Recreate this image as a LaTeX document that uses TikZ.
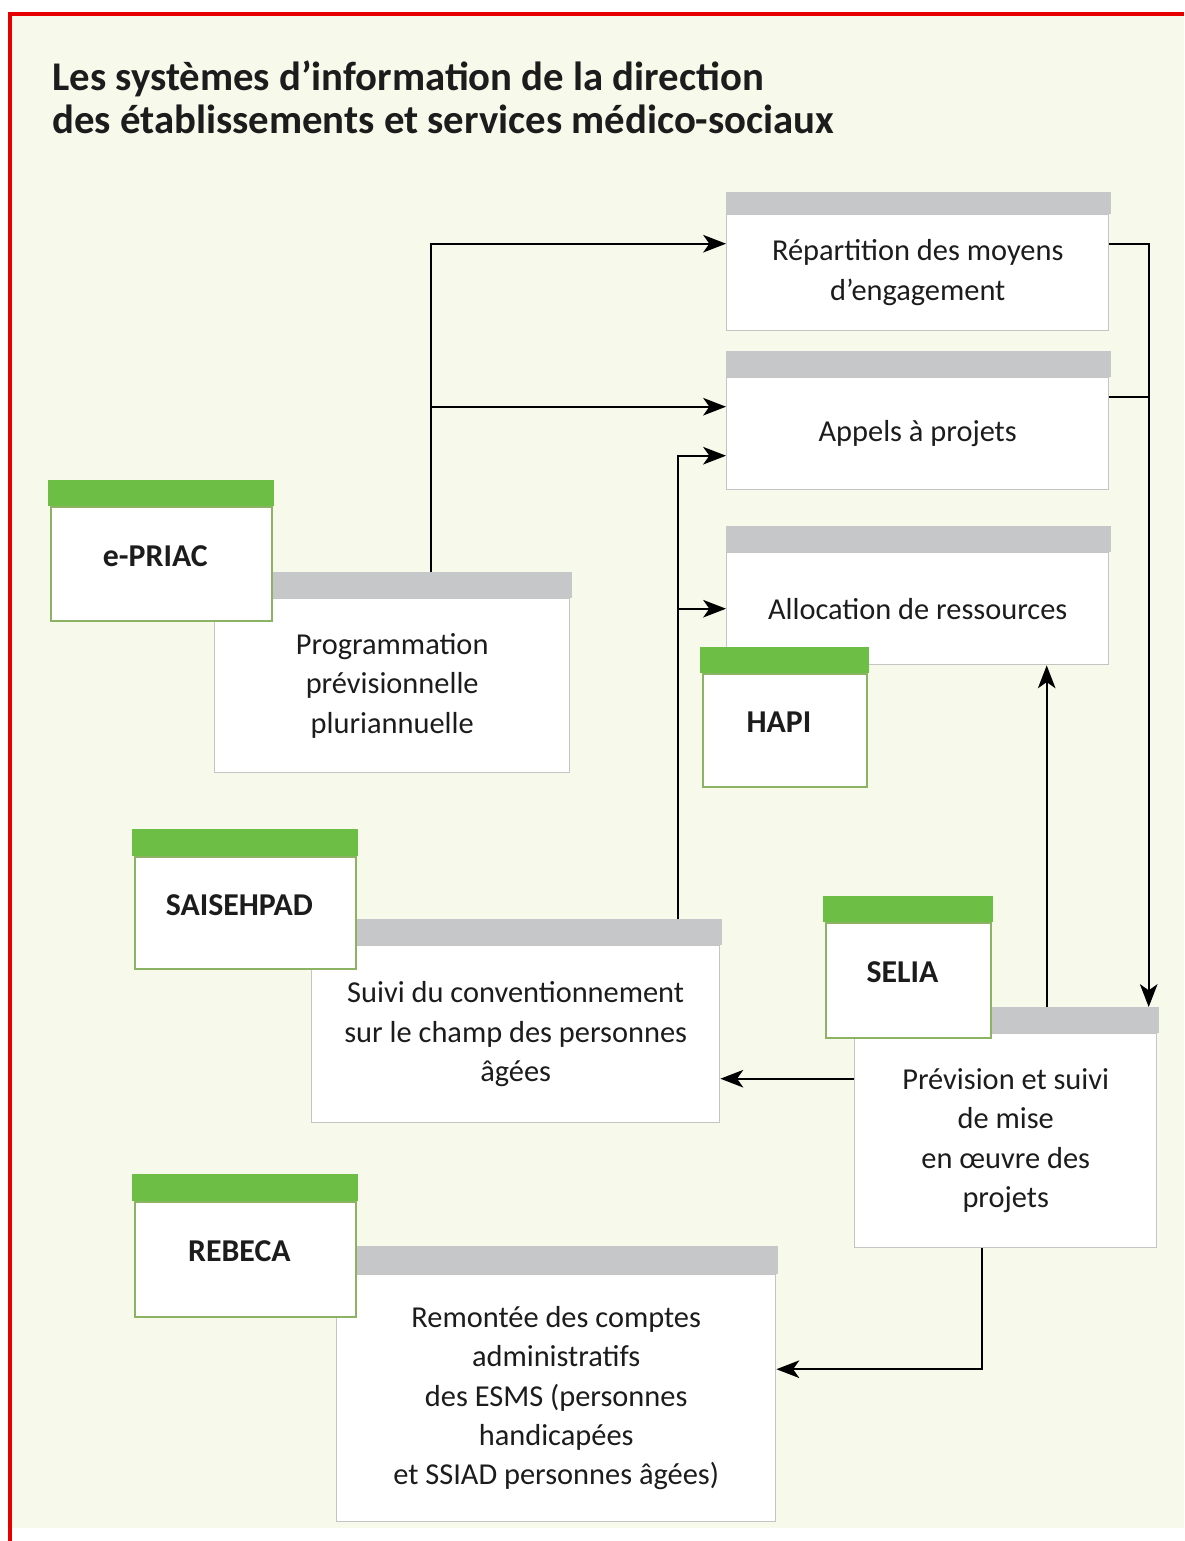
\documentclass[tikz,border=0pt]{standalone}
\usepackage{fontspec}
\setmainfont{Carlito}
\usetikzlibrary{arrows.meta}

\newlength{\pxu}\setlength{\pxu}{0.02cm}

\definecolor{creme}{RGB}{247,249,234}
\definecolor{barregris}{RGB}{198,199,201}
\definecolor{barrevert}{RGB}{108,190,69}
\definecolor{bordgris}{RGB}{196,196,196}
\definecolor{bordvert}{RGB}{140,178,100}
\definecolor{rouge}{RGB}{230,0,0}
\definecolor{encre}{RGB}{28,28,28}

\tikzset{
  corps/.style={draw=bordgris, line width=0.8pt, fill=white, inner sep=0pt, anchor=north west,
    align=center, text=encre, font=\fontsize{17.3}{22.4}\selectfont},
  sigle/.style={draw=bordvert, line width=1pt, fill=white, inner sep=0pt, anchor=north west,
    text=encre, text depth=16\pxu, font=\bfseries\fontsize{18.1}{20}\selectfont,
    execute at begin node={\hspace*{-12\pxu}}},
  titre/.style={inner sep=0pt, anchor=north west, align=left, text=encre,
    font=\bfseries\fontsize{23.2}{24.9}\selectfont},
  fleche/.style={line width=1.1pt, draw=black, -{Stealth[length=13pt,width=10pt,inset=3.5pt]}},
  trait/.style={line width=1.1pt, draw=black},
}

\begin{document}
\begin{tikzpicture}[x=0.02cm, y=-0.02cm]

  \useasboundingbox (0,0) rectangle (1184,1541);
  % fond et cadre
  \fill[creme] (12,15) rectangle (1184,1528);
  \draw[rouge, line width=4\pxu] (10,1541) -- (10,14) -- (1184,14);

  % titre
  \node[titre] (titre) at (52,60) {Les systèmes d’information de la direction\\des établissements et services médico-sociaux};

  % fonctions
  \node[corps, minimum width=382\pxu, minimum height=116\pxu] (rep) at (726,214) {Répartition des moyens\\d’engagement};
  \node[corps, minimum width=382\pxu, minimum height=112\pxu] (app) at (726,377) {Appels à projets};
  \node[corps, minimum width=382\pxu, minimum height=112\pxu] (alloc) at (726,552) {Allocation de ressources};
  \node[corps, minimum width=355\pxu, minimum height=174\pxu] (prog) at (214,598) {Programmation\\prévisionnelle\\pluriannuelle};
  \node[corps, minimum width=408\pxu, minimum height=177\pxu] (suivi) at (311,945) {Suivi du conventionnement\\sur le champ des personnes\\âgées};
  \node[corps, minimum width=302\pxu, minimum height=214\pxu] (prev) at (854,1033) {Prévision et suivi\\de mise\\en œuvre des\\projets};
  \node[corps, minimum width=439\pxu, minimum height=247\pxu] (rem) at (336,1274) {Remontée des comptes\\administratifs\\des ESMS (personnes\\handicapées\\et SSIAD personnes âgées)};
  \foreach \n/\h in {rep/22, app/26, alloc/26, prog/26, suivi/26, prev/26, rem/28}
    \fill[barregris] ([xshift=-0.5\pxu]\n.north west) rectangle ([xshift=2\pxu,yshift=\h\pxu]\n.north east);

  % systemes d'information
  \node[sigle, minimum width=221\pxu, minimum height=114\pxu] (epriac) at (50,506) {e-PRIAC};
  \node[sigle, minimum width=164\pxu, minimum height=113\pxu] (hapi) at (702,673) {HAPI};
  \node[sigle, minimum width=221\pxu, minimum height=112\pxu] (saisehpad) at (134,856) {SAISEHPAD};
  \node[sigle, minimum width=165\pxu, minimum height=115\pxu] (selia) at (825,922) {SELIA};
  \node[sigle, minimum width=221\pxu, minimum height=115\pxu] (rebeca) at (134,1201) {REBECA};
  \foreach \n/\h in {epriac/26, hapi/26, saisehpad/27, selia/26, rebeca/27}
    \fill[barrevert] ([xshift=-2.5\pxu]\n.north west) rectangle ([xshift=1.5\pxu,yshift=\h\pxu]\n.north east);

  % liaisons
  \coordinate (progtop) at ([xshift=38.5\pxu,yshift=26\pxu]prog.north);
  \coordinate (suivitop) at ([xshift=162\pxu,yshift=26\pxu]suivi.north);
  \coordinate (prevtop) at ([xshift=143\pxu,yshift=26\pxu]prev.north);
  \coordinate (prevmid) at ([xshift=41\pxu,yshift=26\pxu]prev.north);
  \coordinate (app-a) at ([yshift=27\pxu]app.west);
  \coordinate (app-b) at ([yshift=-22\pxu]app.west);
  \coordinate (app-c) at ([yshift=37\pxu]app.east);
  \coordinate (prev-a) at ([yshift=62\pxu]prev.west);

  \draw[fleche] (progtop) |- ([yshift=29\pxu]rep.west);
  \draw[fleche] (progtop |- app-a) -- (app-a);
  \draw[fleche] (suivitop) |- (app-b);
  \draw[fleche] (suivitop |- alloc.west) -- (alloc.west);
  \draw[fleche] ([yshift=29\pxu]rep.east) -| (prevtop);
  \draw[trait] (app-c) -- (app-c -| prevtop);
  \draw[fleche] (prevmid) -- (prevmid |- alloc.south);
  \draw[fleche] (prev-a) -- (prev-a -| suivi.east);
  \draw[fleche] ([xshift=-24\pxu]prev.south) |- ([yshift=29\pxu]rem.east);

\end{tikzpicture}
\end{document}
